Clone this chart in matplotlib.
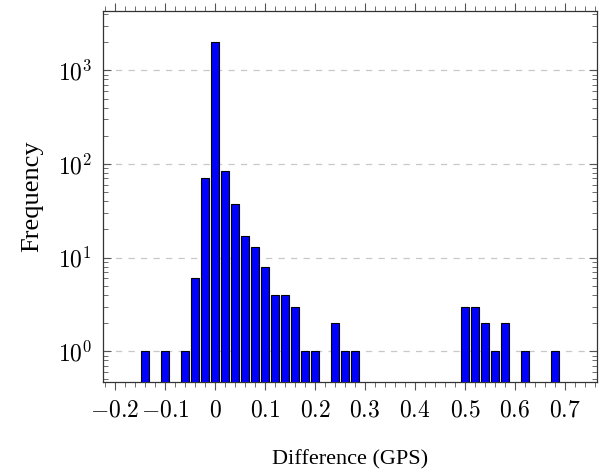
import math
import matplotlib.pyplot as plt
from matplotlib.ticker import MultipleLocator, FuncFormatter, LogLocator

plt.rcParams['font.family'] = ['Liberation Serif', 'DejaVu Serif']
plt.rcParams['mathtext.fontset'] = 'cm'

# histogram bins (centre of bin, width 0.02) and counts
bin_centers = [-0.14, -0.10, -0.06, -0.04, -0.02, 0.00, 0.02, 0.04, 0.06,
               0.08, 0.10, 0.12, 0.14, 0.16, 0.18, 0.20, 0.24, 0.26, 0.28,
               0.50, 0.52, 0.54, 0.56, 0.58, 0.62, 0.68]
counts = [1, 1, 1, 6, 70, 2000, 85, 37, 17, 13, 8, 4, 4, 3, 1, 1, 2, 1, 1,
          3, 3, 2, 1, 2, 1, 1]

fig = plt.figure(figsize=(6.08, 4.73), dpi=100)
ax = fig.add_axes([0.1694, 0.1924, 0.8126, 0.7843])

ax.bar(bin_centers, counts, width=0.017, color='#0000ff', edgecolor='black',
       linewidth=0.8, zorder=3)
ax.set_yscale('log')
ax.set_ylim(0.47, 4300)
ax.set_xlim(-0.224, 0.764)

ax.xaxis.set_major_locator(MultipleLocator(0.1))
ax.xaxis.set_minor_locator(MultipleLocator(0.02))
ax.xaxis.set_major_formatter(FuncFormatter(
    lambda v, p: '$0$' if abs(v) < 1e-9 else '$%g$' % round(v, 2)))
ax.yaxis.set_major_locator(LogLocator(base=10, numticks=10))
ax.yaxis.set_minor_locator(LogLocator(base=10, subs=range(2, 10), numticks=10))
ax.yaxis.set_major_formatter(FuncFormatter(
    lambda v, p: '$10^{%d}$' % round(math.log10(v))))

ax.tick_params(axis='x', which='both', direction='out', top=True, bottom=True,
               labelsize=17, color='#555555', pad=7)
ax.tick_params(axis='x', which='major', length=6)
ax.tick_params(axis='x', which='minor', length=3.5)
ax.tick_params(axis='y', which='both', direction='in', left=True, right=True,
               labelsize=17, color='#555555', pad=8)
ax.tick_params(axis='y', which='major', length=6)
ax.tick_params(axis='y', which='minor', length=3.5)

ax.yaxis.grid(True, which='major', linestyle=(0, (5, 5)), color='#c8c8c8',
              linewidth=0.9, zorder=0)
for s in ax.spines.values():
    s.set_linewidth(0.9)
    s.set_color('#333333')

ax.set_xlabel('Difference (GPS)', fontsize=16, labelpad=21)
ax.set_ylabel('Frequency', fontsize=19, labelpad=10)

fig.savefig('out.png', dpi=100)
